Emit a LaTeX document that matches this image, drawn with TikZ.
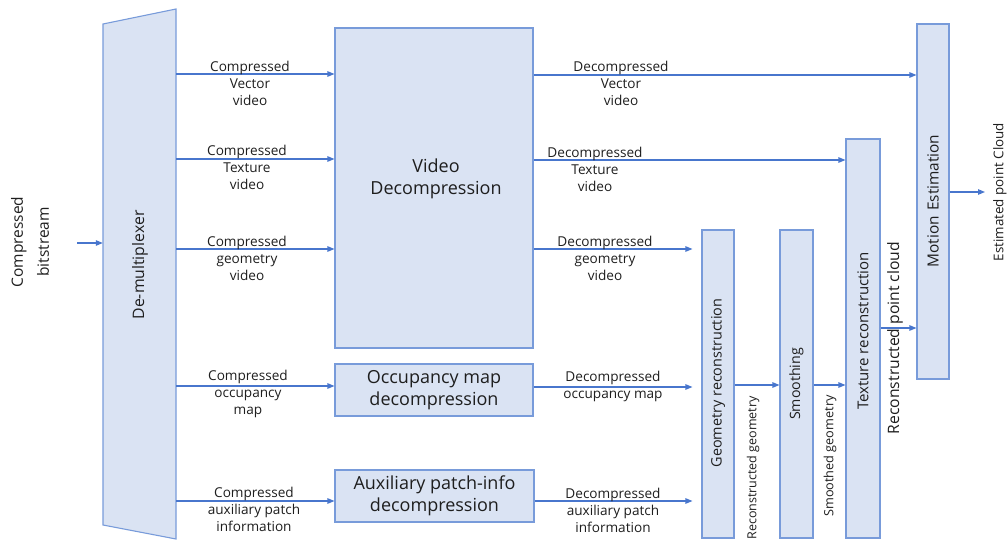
\documentclass[tikz,border=0pt]{standalone}
\usepackage{fontspec}
\setmainfont{Open Sans}
\usetikzlibrary{arrows.meta}

\definecolor{boxfill}{RGB}{218,227,243}
\definecolor{boxline}{RGB}{120,155,218}
\definecolor{arrowblue}{RGB}{72,118,205}
\definecolor{ink}{RGB}{30,30,30}

\tikzset{
  block/.style={draw=boxline, fill=boxfill, line width=1.1pt, inner sep=0pt, rectangle},
  arr/.style={draw=arrowblue, line width=1.1pt, -{Triangle[length=7pt,width=5.5pt]}},
  lbl/.style={align=center, text=ink, inner sep=0pt, font=\fontsize{13.6}{17}\selectfont},
  bigtxt/.style={align=center, text=ink, inner sep=0pt, font=\fontsize{18}{22}\selectfont},
  vtxt/.style={rotate=90, text=ink, inner sep=0pt},
}

\begin{document}
\begin{tikzpicture}[x=1pt,y=-1pt]
\useasboundingbox (0,0) rectangle (1008,540);

% de-multiplexer (slanted top and bottom edges)
\fill[boxfill] (103,24) -- (176,9) -- (176,539) -- (103,525) -- cycle;
\draw[boxline, line width=1.1pt] (103,24) -- (176,9) -- (176,539) -- (103,525) -- cycle;
\node[inner sep=0pt, minimum width=73pt, minimum height=530pt] (demux) at (139.5,274) {};
\node[vtxt, font=\fontsize{15.8}{19}\selectfont] (demuxtxt) at (140,265) {De-multiplexer};

% input
\node[vtxt, align=center, font=\fontsize{15.5}{26}\selectfont] (bits) at (30,242) {Compressed\\bitstream};
\coordinate (in) at (77,243);
\draw[arr] (in) -- (demux.west |- in);

% decompression blocks
\node[block, minimum width=198pt, minimum height=320pt] (vd) at (434,188) {};
\node[bigtxt] (vdtxt) at (436,179) {Video\\Decompression};
\node[block, minimum width=198pt, minimum height=52pt, bigtxt] (om) at (434,390) {Occupancy map\\decompression};
\node[block, minimum width=199pt, minimum height=52pt, bigtxt] (ax) at (434.5,496) {Auxiliary patch-info\\decompression};

% reconstruction blocks
\node[block, minimum width=32pt, minimum height=308pt] (ge) at (718,384) {};
\node[vtxt, font=\fontsize{14.4}{17}\selectfont] (getxt) at (718,383) {Geometry reconstruction};
\node[block, minimum width=33pt, minimum height=308pt] (sm) at (796.5,384) {};
\node[vtxt, font=\fontsize{14.2}{17}\selectfont] (smtxt) at (796.5,384) {Smoothing};
\node[block, minimum width=34pt, minimum height=399pt] (tr) at (863,338.5) {};
\node[vtxt, font=\fontsize{15}{18}\selectfont] (trtxt) at (863,331) {Texture reconstruction};
\node[block, minimum width=32pt, minimum height=355pt] (me) at (933,201.5) {};
\node[vtxt, font=\fontsize{15.4}{18}\selectfont] (metxt) at (933,201) {Motion\,\,Estimation};

% demultiplexer outputs
\draw[arr] (demux.east |- 0,74) -- (vd.west |- 0,74);
\draw[arr] (demux.east |- 0,159) -- (vd.west |- 0,159);
\draw[arr] (demux.east |- 0,249) -- (vd.west |- 0,249);
\draw[arr] (demux.east |- 0,386) -- (om.west |- 0,386);
\draw[arr] (demux.east |- 0,501) -- (ax.west |- 0,501);

\node[lbl] (l1) at (250,83) {Compressed\\Vector\\video};
\node[lbl] (l2) at (247,167) {Compressed\\Texture\\video};
\node[lbl] (l3) at (247,258) {Compressed\\geometry\\video};
\node[lbl] (l4) at (248,394) {Compressed\\occupancy\\map};
\node[lbl] (l5) at (254,509) {Compressed\\auxiliary patch\\information};

% decompressed streams
\draw[arr] (vd.east |- 0,75) -- (me.west |- 0,75);
\draw[arr] (vd.east |- 0,160) -- (tr.west |- 0,160);
\draw[arr, shorten >=9pt] (vd.east |- 0,249) -- (ge.west |- 0,249);
\draw[arr, shorten >=9pt] (om.east |- 0,387) -- (ge.west |- 0,387);
\draw[arr, shorten >=9pt] (ax.east |- 0,501) -- (ge.west |- 0,501);

\node[lbl] (r1) at (621,83) {Decompressed\\Vector\\video};
\node[lbl] (r2) at (595,169) {Decompressed\\Texture\\video};
\node[lbl] (r3) at (605,258) {Decompressed\\geometry\\video};
\node[lbl] (r4) at (613,386) {Decompressed\\occupancy map};
\node[lbl] (r5) at (613,510) {Decompressed\\auxiliary patch\\information};

% reconstruction chain
\draw[arr] (ge.east |- 0,385) -- (sm.west |- 0,385);
\draw[arr] (sm.east |- 0,385) -- (tr.west |- 0,385);
\draw[arr] (tr.east |- 0,328) -- (me.west |- 0,328);
\coordinate (out) at (985,192);
\draw[arr] (me.east |- out) -- (out);

\node[vtxt, font=\fontsize{12.5}{15}\selectfont] (rg) at (753,468) {Reconstructed geometry};
\node[vtxt, font=\fontsize{12.7}{15}\selectfont] (sg) at (830,456) {Smoothed geometry};
\node[vtxt, font=\fontsize{15.7}{19}\selectfont] (rpc) at (895,338) {Reconstructed point cloud};
\node[vtxt, font=\fontsize{13.4}{16}\selectfont] (epc) at (1000,192) {Estimated point Cloud};
\end{tikzpicture}
\end{document}
